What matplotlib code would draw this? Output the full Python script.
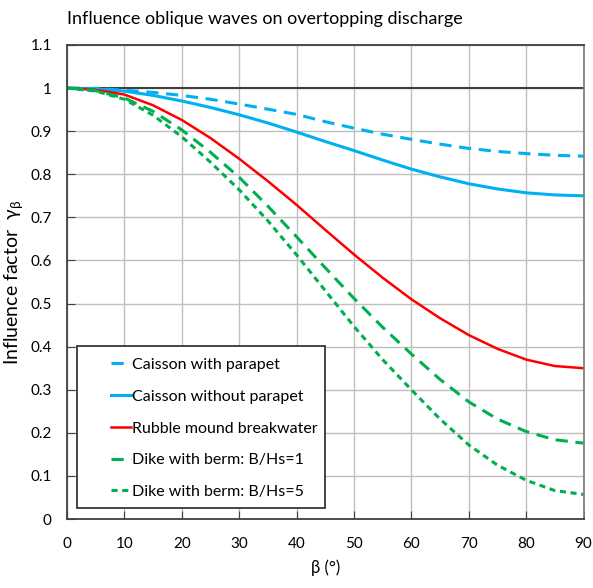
import matplotlib
matplotlib.use("Agg")
import matplotlib.pyplot as plt
from matplotlib.patches import Rectangle

plt.rcParams['font.family'] = ['Lato', 'DejaVu Sans']

beta = [0, 5, 10, 15, 20, 25, 30, 35, 40, 45, 50, 55, 60, 65, 70, 75, 80, 85, 90]
caisson_parapet = [1.0, 0.999, 0.995, 0.99, 0.983, 0.974, 0.963, 0.951, 0.939, 0.922,
                   0.907, 0.893, 0.881, 0.87, 0.86, 0.853, 0.848, 0.844, 0.842]
caisson_no_parapet = [1.0, 0.998, 0.993, 0.983, 0.97, 0.955, 0.938, 0.919, 0.898, 0.876,
                      0.855, 0.833, 0.812, 0.794, 0.778, 0.766, 0.757, 0.752, 0.75]
rubble_mound = [1.0, 0.996, 0.985, 0.96, 0.926, 0.884, 0.836, 0.784, 0.729, 0.671,
                0.614, 0.56, 0.51, 0.466, 0.427, 0.395, 0.37, 0.355, 0.35]
dike_berm1 = [1.0, 0.994, 0.977, 0.946, 0.903, 0.851, 0.793, 0.726, 0.655, 0.583,
              0.512, 0.445, 0.383, 0.324, 0.272, 0.232, 0.203, 0.184, 0.176]
dike_berm5 = [1.0, 0.993, 0.974, 0.937, 0.887, 0.828, 0.764, 0.692, 0.613, 0.53,
              0.447, 0.37, 0.30, 0.232, 0.172, 0.125, 0.09, 0.066, 0.057]

blue = '#00B0F0'
red = '#FF0000'
green = '#00B050'

fig = plt.figure(figsize=(5.93, 5.88), dpi=100)
ax = fig.add_axes([0.113, 0.1173, 0.871, 0.8062])

ax.axhline(1.0, color='#404040', lw=1.5, zorder=1)
ax.plot(beta, caisson_parapet, color=blue, lw=2.2, dashes=(4, 2.5), label='Caisson with parapet')
ax.plot(beta, caisson_no_parapet, color=blue, lw=2.2, label='Caisson without parapet')
ax.plot(beta, rubble_mound, color=red, lw=1.8, label='Rubble mound breakwater')
ax.plot(beta, dike_berm1, color=green, lw=2.2, dashes=(4, 2.5), label='Dike with berm: B/Hs=1')
ax.plot(beta, dike_berm5, color=green, lw=2.2, dashes=(2, 1.5), label='Dike with berm: B/Hs=5')

ax.set_xlim(0, 90)
ax.set_ylim(0, 1.1)
ax.set_xticks(range(0, 91, 10))
ax.set_yticks([i / 10 for i in range(12)])
ax.set_yticklabels(['0', '0.1', '0.2', '0.3', '0.4', '0.5', '0.6', '0.7', '0.8', '0.9', '1', '1.1'])
ax.grid(True, color='#BFBFBF', lw=1)
ax.set_axisbelow(True)
ax.tick_params(direction='in', length=6, labelsize=11, color='#404040')
ax.tick_params(axis='x', pad=13)
ax.tick_params(axis='y', pad=11)
for s in ['left', 'bottom', 'top']:
    ax.spines[s].set_color('#404040')
    ax.spines[s].set_linewidth(1.3)
ax.spines['right'].set_color('#808080')
ax.spines['right'].set_linewidth(1.3)

ax.set_xlabel(r'β (°)', fontsize=12, labelpad=6)
ax.set_ylabel(r'Influence factor  $\mathregular{\gamma_\beta}$', fontsize=14, labelpad=4)

# legend frame drawn separately so the entries can sit indented inside it
ax.add_patch(Rectangle((0.019, 0.023), 0.48, 0.342, transform=ax.transAxes,
                       facecolor='white', edgecolor='#262626', lw=1.2, zorder=4))
leg = ax.legend(loc='upper left', bbox_to_anchor=(0.075, 0.35),
                fontsize=11.5, handlelength=1.3, handletextpad=0.05, labelspacing=1.1,
                borderpad=0.3, frameon=False, borderaxespad=0)
leg.set_zorder(5)

fig.text(0.113, 0.968, 'Influence oblique waves on overtopping discharge', fontsize=13,
         ha='left', va='center')

fig.savefig('out.png', dpi=100)
